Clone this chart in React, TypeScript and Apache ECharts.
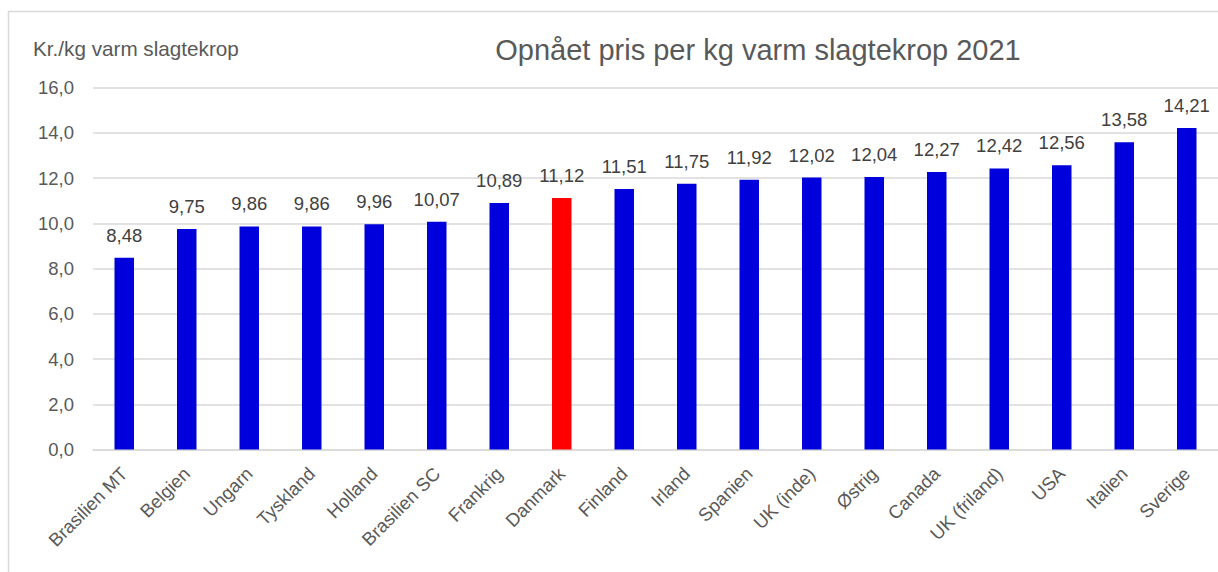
import React, { useEffect, useRef } from "react";
import * as echarts from "echarts";

const categories = [
  "Brasilien MT", "Belgien", "Ungarn", "Tyskland", "Holland", "Brasilien SC",
  "Frankrig", "Danmark", "Finland", "Irland", "Spanien", "UK (inde)",
  "Østrig", "Canada", "UK (friland)", "USA", "Italien", "Sverige",
];
const values = [
  8.48, 9.75, 9.86, 9.86, 9.96, 10.07, 10.89, 11.12, 11.51, 11.75, 11.92,
  12.02, 12.04, 12.27, 12.42, 12.56, 13.58, 14.21,
];
const highlighted = ["Danmark"];
const yTicks = [0, 2, 4, 6, 8, 10, 12, 14, 16];

const titleText = "Opnået pris per kg varm slagtekrop 2021";
const yName = "Kr./kg varm slagtekrop";

const FONT = "'Liberation Sans', Arial, sans-serif";
const comma = (v: number, d: number) => v.toFixed(d).replace(".", ",");

export default function App() {
  const ref = useRef<HTMLDivElement>(null);
  useEffect(() => {
    if (!ref.current) return;
    const chart = echarts.init(ref.current, null, { renderer: "svg" });
    chart.setOption({
      animation: false,
      backgroundColor: "#ffffff",
      textStyle: { fontFamily: FONT },
      graphic: [
        {
          type: "rect",
          shape: { x: 8.5, y: 11.5, width: 1300, height: 700 },
          style: { fill: "none", stroke: "#d9d9d9", lineWidth: 1.5 },
          silent: true,
          z: -10,
        },
        {
          type: "text",
          x: 758,
          y: 50,
          style: {
            text: titleText,
            fontSize: 29,
            fontFamily: FONT,
            fill: "#595959",
            textAlign: "center",
            textVerticalAlign: "middle",
          },
        },
        {
          type: "text",
          x: 33,
          y: 48,
          style: {
            text: yName,
            fontSize: 20.7,
            fontFamily: FONT,
            fill: "#595959",
            textAlign: "left",
            textVerticalAlign: "middle",
          },
        },
      ],
      grid: { left: 93, top: 87.5, width: 1139, height: 362, containLabel: false },
      xAxis: {
        type: "category",
        data: categories,
        axisTick: { show: false },
        axisLine: { show: true, lineStyle: { color: "#d9d9d9", width: 1.5 } },
        axisLabel: {
          interval: 0,
          rotate: 45,
          fontSize: 18.5,
          color: "#595959",
          fontFamily: FONT,
          margin: 21,
        },
      },
      yAxis: {
        type: "value",
        min: yTicks[0],
        max: yTicks[yTicks.length - 1],
        interval: 2,
        axisLine: { show: false },
        axisTick: { show: false },
        splitLine: { lineStyle: { color: "#d9d9d9", width: 1.5 } },
        axisLabel: {
          fontSize: 18.5,
          color: "#595959",
          fontFamily: FONT,
          margin: 19,
          formatter: (v: number) => comma(v, 1),
        },
      },
      series: [
        {
          type: "bar",
          barWidth: 19.5,
          data: values.map((v, i) => ({
            value: v,
            itemStyle: {
              color: highlighted.includes(categories[i]) ? "#ff0000" : "#0000dd",
            },
          })),
          label: {
            show: true,
            position: "top",
            distance: 13,
            fontSize: 18.5,
            color: "#404040",
            fontFamily: FONT,
            formatter: (p: any) => comma(p.value, 2),
          },
        },
      ],
    });
    return () => chart.dispose();
  }, []);
  return (
    <div
      ref={ref}
      style={{ position: "absolute", left: 0, top: 0, width: 1218, height: 572 }}
    />
  );
}
